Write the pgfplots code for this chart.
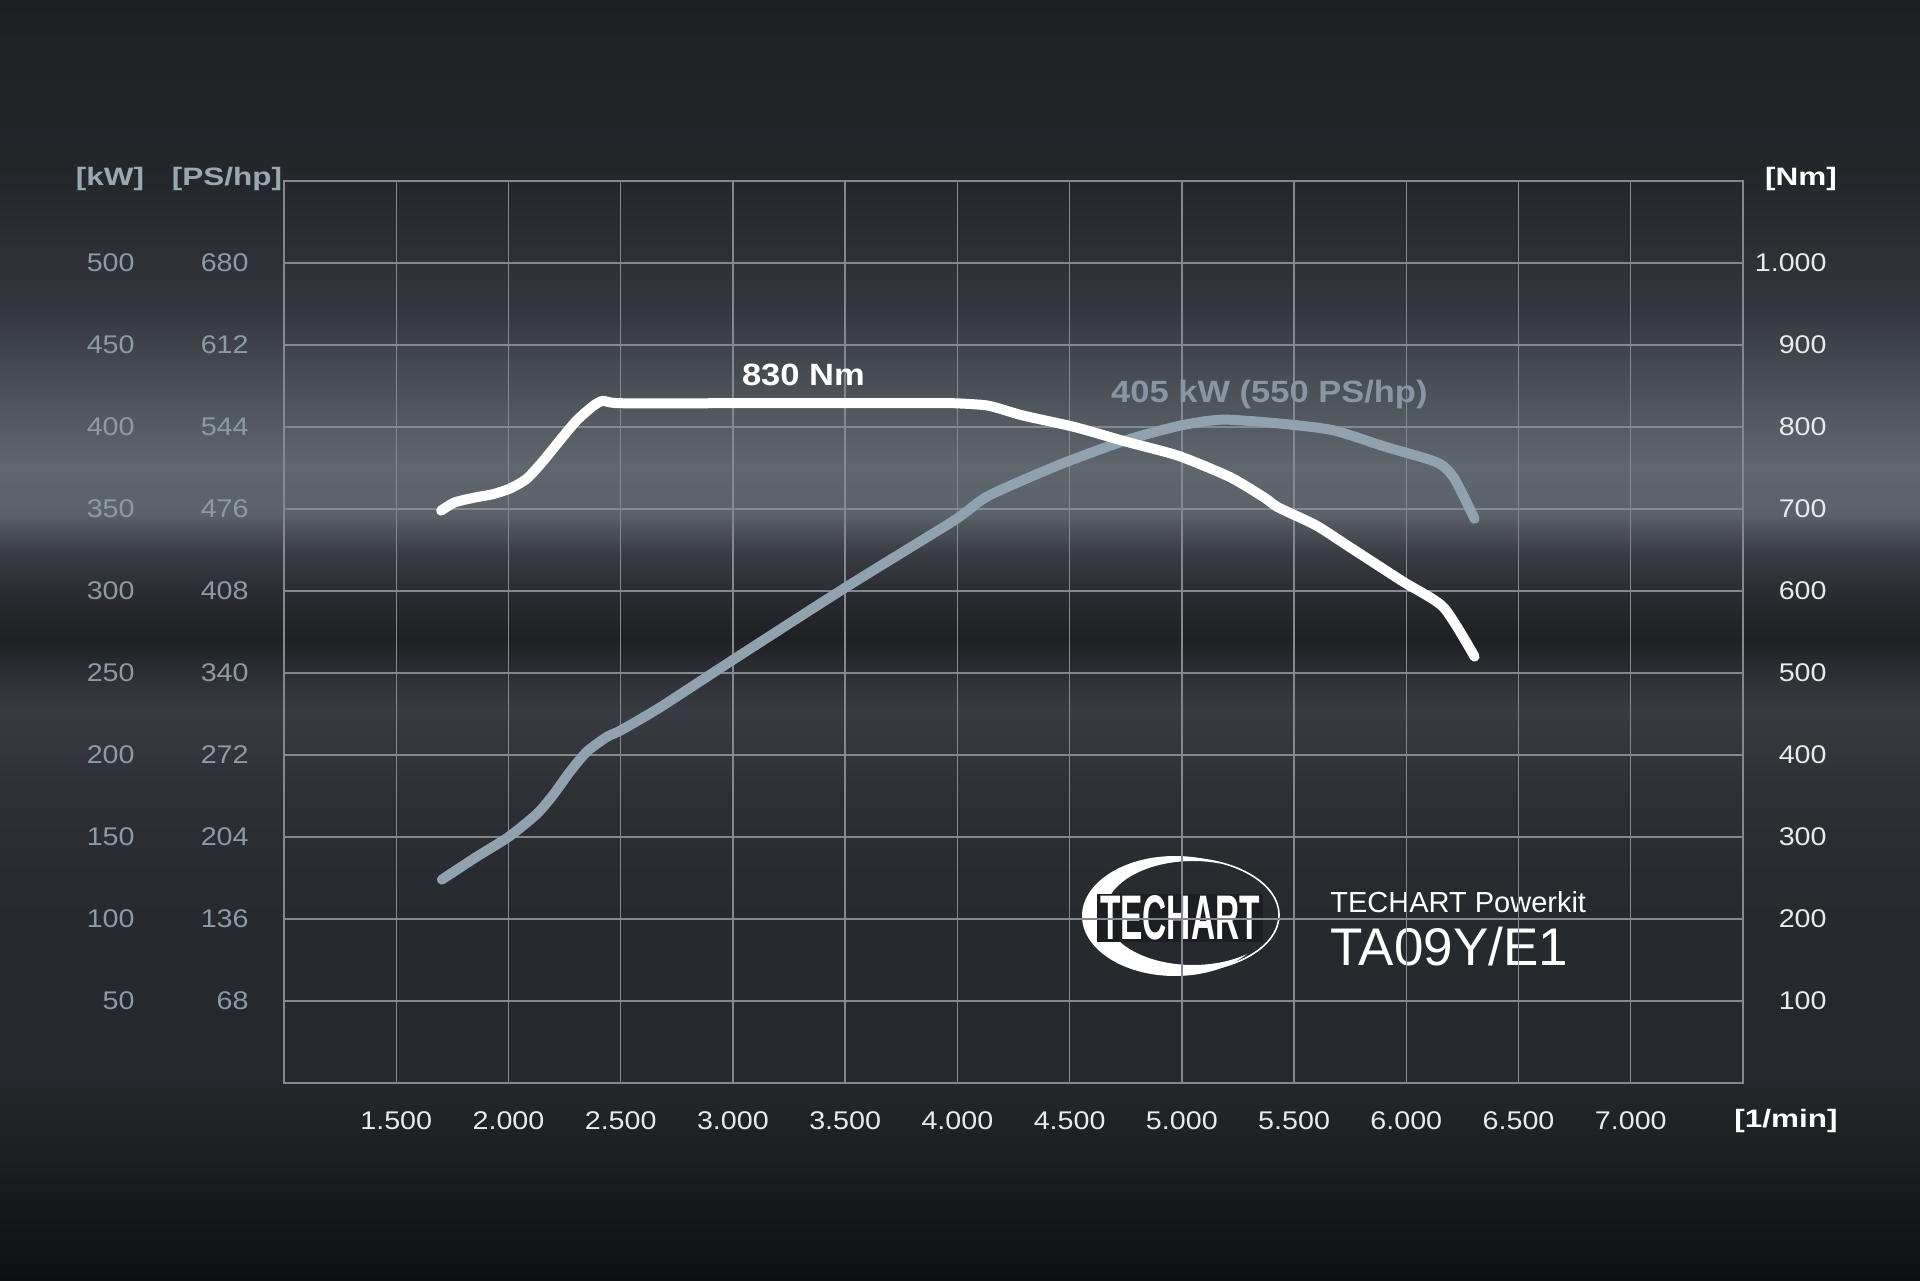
\documentclass[border=0pt]{standalone}
\usepackage{fontspec}
\usepackage{graphicx}
\usepackage{pgfplots}
\pgfplotsset{compat=1.18}
\setmainfont{Liberation Sans}
\newfontfamily\lab{Liberation Sans}[FakeStretch=1.12]
\newfontfamily\hdr{Liberation Sans}[FakeStretch=1.25]

\definecolor{gridc}{HTML}{85898F}
\definecolor{tickw}{HTML}{E8EAEC}
\definecolor{labg}{HTML}{8D9AA5}
\definecolor{hdrg}{HTML}{9AA8B3}
\definecolor{powc}{HTML}{8FA2AE}
\definecolor{powlab}{HTML}{8796A2}
\definecolor{logodark}{HTML}{1C1E22}

% background stops, bottom to top
\definecolor{b0}{HTML}{0F1012}
\definecolor{b1}{HTML}{1A1B1E}
\definecolor{b2}{HTML}{25282C}
\definecolor{b3}{HTML}{26292D}
\definecolor{b4}{HTML}{2C2F34}
\definecolor{b5}{HTML}{383C42}
\definecolor{b6}{HTML}{2E3136}
\definecolor{b7}{HTML}{1E2024}
\definecolor{b8}{HTML}{2A2D32}
\definecolor{b9}{HTML}{3A3E44}
\definecolor{b10}{HTML}{50555C}
\definecolor{b11}{HTML}{5C6269}
\definecolor{b12}{HTML}{60666D}
\definecolor{b13}{HTML}{4F555C}
\definecolor{b14}{HTML}{33373D}
\definecolor{b15}{HTML}{24272B}
\definecolor{b16}{HTML}{1D1F23}
\pgfdeclareverticalshading{bg}{960pt}{color(0pt)=(b0); color(52pt)=(b1);
  color(101pt)=(b2); color(181pt)=(b3); color(242pt)=(b4); color(285pt)=(b5);
  color(300pt)=(b6); color(321pt)=(b7); color(345pt)=(b8); color(364pt)=(b9);
  color(377pt)=(b10); color(383pt)=(b11); color(407pt)=(b12); color(438pt)=(b13);
  color(487pt)=(b14); color(548pt)=(b15); color(640pt)=(b16)}

\pgfplotstableread{
rpm   Nm
1700  698
1760  708
1850  714
1930  718
2007  725
2082  737
2156  759
2230  784
2304  808
2379  826
2423  832
2497  829
3000  829
3500  829
3900  829
3985  829
4138  826
4292  814
4522  800
4753  782
4983  765
5214  739
5367  714
5429  702
5598  680
5751  653
5982  612
6166  580
6304  520
}\torque

\pgfplotstableread{
rpm   kW
1703  124
1859  138
2000  150
2126  164
2201  176
2275  190
2349  202
2438  211
2500  215
2675  229
3000  258
3500  302
3985  343
4138  358
4455  377
4753  392
4998  401
5183  404.5
5444  402
5675  398
5905  388
6135  378.5
6212  369
6304  344
}\power

\begin{document}
\begin{tikzpicture}
% background
\node[inner sep=0pt, outer sep=0pt, anchor=south west] at (0,0) {\pgfuseshading{bg}};

% logo
\begin{scope}
  \clip (587.5pt,182pt) ellipse [x radius=46.5pt, y radius=30pt];
  \fill[white, even odd rule] (530pt,140pt) rectangle (650pt,225pt)
    (596.5pt,183.5pt) ellipse [x radius=44pt, y radius=26pt];
\end{scope}
\draw[white, line width=0.8pt] (591pt,182.5pt) ellipse [x radius=48.5pt, y radius=28.5pt];
\fill[logodark] (548.5pt,169pt) rectangle (631.5pt,193pt);
\node[inner sep=0pt, text=white] at (590pt,181pt) {\resizebox{80pt}{22pt}{\bfseries TECHART}};
\node[inner sep=0pt, anchor=base west, text=white, font=\fontsize{14.5pt}{16pt}\selectfont]
  at (665pt,184pt) {TECHART Powerkit};
\node[inner sep=0pt, anchor=base west, text=white, font=\fontsize{26.5pt}{28pt}\selectfont]
  at (665pt,157.5pt) {TA09Y/E1};

% grid, rpm and Nm labels
\begin{axis}[
  at={(142pt,98.5pt)}, anchor=south west,
  scale only axis, width=729.5pt, height=451pt,
  xmin=1000, xmax=7500, ymin=0, ymax=1100,
  xtick={1500,2000,...,7000},
  xticklabels={1.500,2.000,2.500,3.000,3.500,4.000,4.500,5.000,5.500,6.000,6.500,7.000},
  ytick={100,200,...,1000},
  yticklabels={100,200,300,400,500,600,700,800,900,1.000},
  yticklabel pos=right,
  grid=major,
  major grid style={gridc, line width=0.7pt},
  axis line style={gridc, line width=0.7pt},
  major tick length=0pt, tick style={draw=none},
  ticklabel style={font=\lab\fontsize{12.8pt}{14pt}\selectfont, text=tickw, inner sep=0pt},
  xticklabel style={anchor=center, yshift=-19pt},
  yticklabel style={anchor=east, xshift=42pt},
]
\end{axis}

% kW labels and power curve
\begin{axis}[
  at={(142pt,98.5pt)}, anchor=south west,
  scale only axis, width=729.5pt, height=451pt,
  xmin=1000, xmax=7500, ymin=0, ymax=550,
  xtick=\empty,
  ytick={50,100,...,500},
  yticklabels={50,100,150,200,250,300,350,400,450,500},
  axis line style={draw=none},
  major tick length=0pt, tick style={draw=none},
  ticklabel style={font=\lab\fontsize{12.8pt}{14pt}\selectfont, text=labg, inner sep=0pt},
  yticklabel style={anchor=east, xshift=-74.5pt},
]
\addplot[powc, line width=5pt, line cap=round, line join=round, smooth, tension=0.4]
  table[x=rpm, y=kW] {\power};
\node[text=powlab, font=\lab\bfseries\fontsize{15.4pt}{17pt}\selectfont]
  at (axis cs:5390,419.5) {405 kW (550 PS/hp)};
\end{axis}

% PS labels and torque curve
\begin{axis}[
  at={(142pt,98.5pt)}, anchor=south west,
  scale only axis, width=729.5pt, height=451pt,
  xmin=1000, xmax=7500, ymin=0, ymax=1100,
  xtick=\empty,
  ytick={100,200,...,1000},
  yticklabels={68,136,204,272,340,408,476,544,612,680},
  axis line style={draw=none},
  major tick length=0pt, tick style={draw=none},
  ticklabel style={font=\lab\fontsize{12.8pt}{14pt}\selectfont, text=labg, inner sep=0pt},
  yticklabel style={anchor=east, xshift=-17.5pt},
]
\addplot[white, line width=5pt, line cap=round, line join=round, smooth, tension=0.4]
  table[x=rpm, y=Nm] {\torque};
\node[text=white, font=\lab\bfseries\fontsize{15.4pt}{17pt}\selectfont]
  at (axis cs:3314,864) {830 Nm};
\end{axis}

% unit headers
\node[text=hdrg, font=\hdr\bfseries\fontsize{12.6pt}{14pt}\selectfont] at (55pt,550.5pt) {[kW]};
\node[text=hdrg, font=\hdr\bfseries\fontsize{12.6pt}{14pt}\selectfont] at (113.5pt,550.5pt) {[PS/hp]};
\node[text=white, font=\hdr\bfseries\fontsize{12.6pt}{14pt}\selectfont] at (900.5pt,550.5pt) {[Nm]};
\node[text=white, font=\hdr\bfseries\fontsize{12.6pt}{14pt}\selectfont] at (893pt,79.5pt) {[1/min]};

\pgfresetboundingbox
\path[use as bounding box] (0,0) rectangle (960pt,640pt);
\end{tikzpicture}
\end{document}
